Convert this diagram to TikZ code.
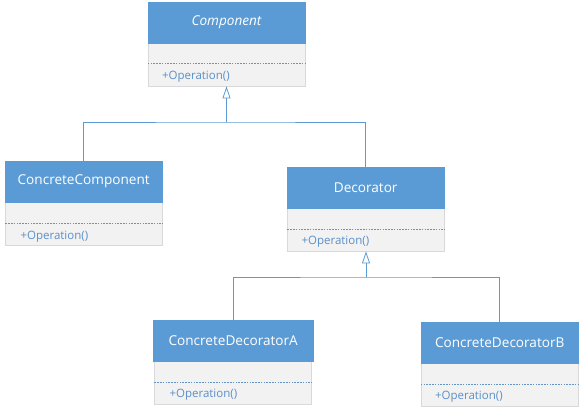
\documentclass[tikz,border=0pt]{standalone}
\usepackage{fontspec}
\setmainfont{Open Sans}
\usetikzlibrary{arrows.meta}
\definecolor{umlblue}{HTML}{5B9BD5}
\definecolor{umlgray}{HTML}{F2F2F2}
\definecolor{umltext}{HTML}{5B8FC9}
\begin{document}
\begin{tikzpicture}[x=1pt, y=1pt,
        head/.style={rectangle, fill=umlblue, draw=umlblue, text=white, font=\fontsize{13.6}{16}\selectfont,
            minimum width=157, minimum height=41, anchor=north west, inner sep=0},
        body/.style={rectangle, fill=umlgray, draw=black!15, minimum width=157, minimum height=43,
            anchor=north, inner sep=0},
        sep/.style={umlblue!80!gray, dash pattern=on 1.6pt off 1.2pt, line width=0.5pt},
        op/.style={text=umltext, font=\fontsize{11.5}{13}\selectfont, anchor=west, inner sep=0},
        link/.style={umlblue, line width=0.8pt},
        gen/.style={link, -{Triangle[open, length=12pt, width=8pt]}}]
        \useasboundingbox (0, 0) rectangle (585, -414);

        % base component
        \node[body] (compb) at (226.5, -43) {};
        \node[head] (comp) at (148, -2) {\textit{Component}};
        \draw[sep] ([yshift=-20]compb.north west) -- ([yshift=-20]compb.north east);
        \node[op] at ([xshift=14, yshift=-34]compb.north west) {+Operation()};

        % concrete component
        \node[body] (ccb) at (84, -202) {};
        \node[head] (cc) at (5, -161) {ConcreteComponent};
        \draw[sep] ([yshift=-21]ccb.north west) -- ([yshift=-21]ccb.north east);
        \node[op] at ([xshift=15, yshift=-35]ccb.north west) {+Operation()};

        % decorator
        \node[body] (decb) at (366, -208) {};
        \node[head] (dec) at (287, -167) {Decorator};
        \draw[sep] ([yshift=-21]decb.north west) -- ([yshift=-21]decb.north east);
        \node[op] at ([xshift=14, yshift=-34]decb.north west) {+Operation()};

        % concrete decorators
        \node[body] (cdab) at (233, -361) {};
        \node[head, minimum width=160] (cda) at (153, -320) {ConcreteDecoratorA};
        \draw[sep] ([yshift=-21]cdab.north west) -- ([yshift=-21]cdab.north east);
        \node[op] at ([xshift=15, yshift=-34]cdab.north west) {+Operation()};

        \node[body] (cdbb) at (499.5, -363) {};
        \node[head] (cdb) at (421, -322) {ConcreteDecoratorB};
        \draw[sep] ([yshift=-21]cdbb.north west) -- ([yshift=-21]cdbb.north east);
        \node[op] at ([xshift=14, yshift=-34]cdbb.north west) {+Operation()};

        % generalisations
        \coordinate (j1) at (226.5, -122);
        \coordinate (j2) at (366, -277);
        \draw[link] (cc.north) |- (j1) -| (dec.north);
        \draw[gen] (j1) -- (compb.south);
        \draw[link] (cda.north) |- (j2) -| (cdb.north);
        \draw[gen] (j2) -- (decb.south);
    \end{tikzpicture}
\end{document}
